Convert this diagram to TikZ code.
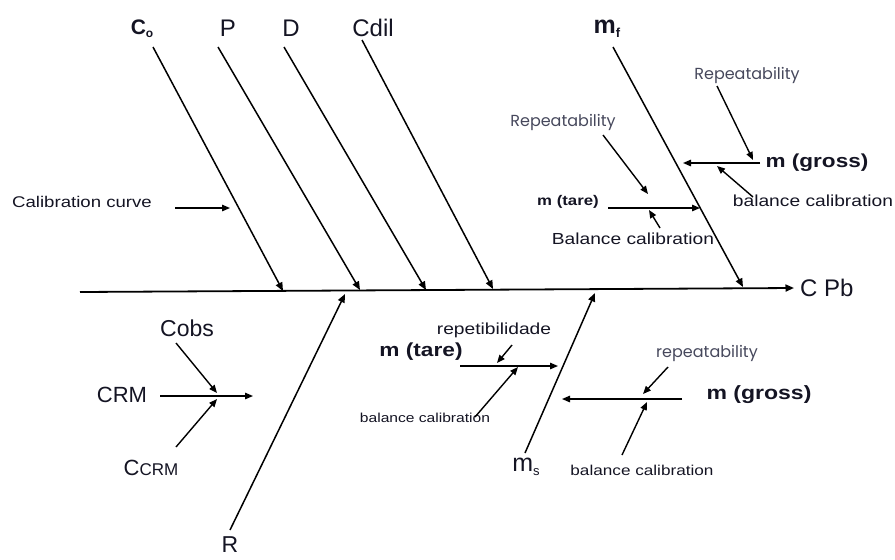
\documentclass[tikz,border=0pt]{standalone}
\usepackage{fontspec}
\setmainfont{Liberation Sans}
\newfontfamily\widesans[FakeStretch=1.2]{Liberation Sans}
\newfontfamily\geosans{Poppins}
\usetikzlibrary{arrows.meta}
\definecolor{softink}{RGB}{70,72,92}
\definecolor{ink}{RGB}{20,20,35}
\newcommand{\lowtxt}[2]{\raisebox{-0.15em}{\fontsize{#1}{#1}\selectfont #2}}

\begin{document}
\begin{tikzpicture}[x=1pt,y=-1pt,
  bone/.style={line width=1.5pt,-{Triangle[length=8.5pt,width=7pt]}},
  twig/.style={line width=1.4pt,-{Triangle[length=8pt,width=6.5pt]}},
  lbl/.style={inner sep=0pt,text=ink,font=\fontsize{24}{28}\selectfont},
  small/.style={inner sep=0pt,text=ink,font=\widesans\fontsize{#1}{#1}\selectfont},
  smallbold/.style={inner sep=0pt,text=ink,font=\widesans\bfseries\fontsize{#1}{#1}\selectfont},
  geo/.style={inner sep=0pt,text=softink,font=\geosans\fontsize{#1}{#1}\selectfont}]
\useasboundingbox (0,0) rectangle (895,560);

% ---- main spine ----
\coordinate (sp0) at (80,292);
\node[lbl,anchor=west] (cpb) at (800,288) {C Pb};
\draw[bone,line width=1.8pt] (sp0) -- ([xshift=-6pt]cpb.west);

% ---- upper bones ----
\node[lbl,font=\bfseries\fontsize{21}{24}\selectfont] (co) at (142,29) {C\lowtxt{12}{o}};
\node[lbl] (p) at (228,28) {P};
\node[lbl] (d) at (291,28) {D};
\node[lbl] (cdil) at (373,28) {Cdil};
\node[lbl,font=\bfseries\fontsize{25}{28}\selectfont] (mf) at (607,29) {m\lowtxt{13}{f}};

\coordinate (co0) at (153,47);  \coordinate (co1) at (283,291);
\coordinate (p0) at (218,47);   \coordinate (p1) at (360,290);
\coordinate (d0) at (284,47);   \coordinate (d1) at (426,290);
\coordinate (cd0) at (362,40);  \coordinate (cd1) at (493,289);
\coordinate (mf0) at (613,47);  \coordinate (mf1) at (743,287);
\draw[bone] (co0) -- (co1);
\draw[bone] (p0) -- (p1);
\draw[bone] (d0) -- (d1);
\draw[bone] (cd0) -- (cd1);
\draw[bone] (mf0) -- (mf1);

% calibration curve
\node[small=15.5] (calc) at (82,202) {Calibration curve};
\coordinate (cc0) at (175,208); \coordinate (cc1) at (230,208);
\draw[twig] (cc0) -- (cc1);

% m_f sub-causes
\node[geo=16] (rep1) at (747,75) {Repeatability};
\node[smallbold=18.8] (mg1) at (817,163) {m (gross)};
\node[small=16] (bc1) at (813,201) {balance calibration};
\node[geo=16] (rep2) at (563,122) {Repeatability};
\node[smallbold=14] (mt1) at (568,202) {m (tare)};
\node[small=16] (bc2) at (633,239) {Balance calibration};

\coordinate (mg1a) at (760,163); \coordinate (mg1b) at (683,163);
\coordinate (r1a) at (717,86);   \coordinate (r1b) at (753,160);
\coordinate (b1a) at (753,197);  \coordinate (b1b) at (717,166);
\coordinate (mt1a) at (608,208); \coordinate (mt1b) at (700,208);
\coordinate (r2a) at (603,135);  \coordinate (r2b) at (648,194);
\coordinate (b2a) at (660,228);  \coordinate (b2b) at (649,210);
\draw[twig] (mg1a) -- (mg1b);
\draw[twig] (r1a) -- (r1b);
\draw[twig] (b1a) -- (b1b);
\draw[twig] (mt1a) -- (mt1b);
\draw[twig] (r2a) -- (r2b);
\draw[twig] (b2a) -- (b2b);

% ---- lower bones ----
\node[lbl,font=\fontsize{23}{26}\selectfont] (cobs) at (187,328) {Cobs};
\node[lbl,font=\fontsize{22}{26}\selectfont] (crm) at (122,395) {CRM};
\node[lbl,font=\fontsize{22}{26}\selectfont] (ccrm) at (151,468) {C\fontsize{17}{20}\selectfont CRM};
\node[lbl,font=\fontsize{23}{26}\selectfont] (r) at (230,545) {R};
\node[lbl,font=\fontsize{25}{28}\selectfont] (ms) at (526,467) {m\lowtxt{13}{s}};

\coordinate (cb0) at (176,343);  \coordinate (cb1) at (217,393);
\coordinate (cr0) at (160,396);  \coordinate (cr1) at (253,396);
\coordinate (cc2) at (176,447);  \coordinate (cc3) at (217,399);
\coordinate (r0) at (230,530);   \coordinate (r1) at (345,294);
\coordinate (ms0) at (525,453);  \coordinate (ms1) at (595,293);
\draw[twig] (cb0) -- (cb1);
\draw[twig] (cr0) -- (cr1);
\draw[twig] (cc2) -- (cc3);
\draw[bone] (r0) -- (r1);
\draw[bone] (ms0) -- (ms1);

% m_s sub-causes
\node[small=16] (repb) at (494,330) {repetibilidade};
\node[smallbold=18.9] (mt2) at (421,352) {m (tare)};
\node[small=13] (bc3) at (425,418) {balance calibration};
\node[smallbold=19.2] (mg2) at (759,395) {m (gross)};
\node[geo=16] (rep3) at (707,353) {repeatability};
\node[small=14.3] (bc4) at (642,470) {balance calibration};

\coordinate (mt2a) at (460,366); \coordinate (mt2b) at (558,366);
\coordinate (rb0) at (512,345);  \coordinate (rb1) at (497,363);
\coordinate (b3a) at (475,417);  \coordinate (b3b) at (518,367);
\coordinate (mg2a) at (682,399); \coordinate (mg2b) at (562,399);
\coordinate (r3a) at (668,367);  \coordinate (r3b) at (643,394);
\coordinate (b4a) at (622,455);  \coordinate (b4b) at (647,402);
\draw[twig] (mt2a) -- (mt2b);
\draw[twig] (rb0) -- (rb1);
\draw[twig] (b3a) -- (b3b);
\draw[twig] (mg2a) -- (mg2b);
\draw[twig] (r3a) -- (r3b);
\draw[twig] (b4a) -- (b4b);
\end{tikzpicture}
\end{document}
